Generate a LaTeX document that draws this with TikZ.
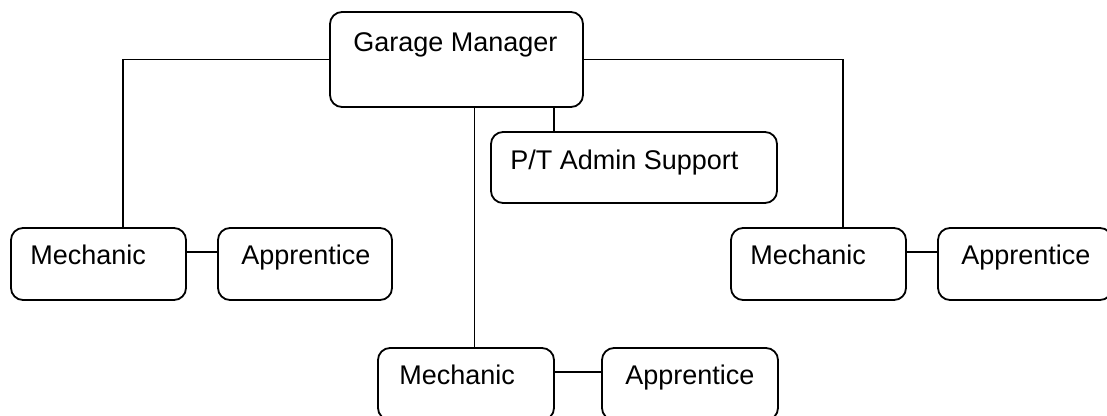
\documentclass[tikz,border=0pt]{standalone}
\usepackage{fontspec}
\setmainfont{Liberation Sans}
\usetikzlibrary{calc}
\tikzset{
  box/.style={draw=black, line width=1.8pt, rounded corners=12pt, fill=white,
    inner sep=0pt, minimum width=#1},
  box/.default=175pt,
  lbl/.style={inner sep=0pt, anchor=base west, font=\fontsize{27}{32}\selectfont},
  link/.style={draw=black, line width=1.8pt},
}
\begin{document}
\begin{tikzpicture}[x=1pt,y=-1pt]
  \useasboundingbox (0,0) rectangle (1107,415);
  \clip (0,0) rectangle (1107,415);
  \fill[white] (0,0) rectangle (1107,415);

  % boxes
  \node[box=253pt, minimum height=95pt] (gm) at (456.5,59.5) {};
  \node[box=286pt, minimum height=71pt] (pt) at (634,167.5) {};
  \node[box=175pt, minimum height=72pt] (lm) at (98.5,264) {};
  \node[box=174pt, minimum height=72pt] (la) at (305,264) {};
  \node[box=175pt, minimum height=72pt] (rm) at (818.5,264) {};
  \node[box=174pt, minimum height=72pt] (ra) at (1025,264) {};
  \node[box=176pt, minimum height=72pt] (bm) at (466,384) {};
  \node[box=176pt, minimum height=72pt] (ba) at (690,384) {};

  % labels
  \node[lbl] (gmt) at ($(gm.north west)+(24,40)$) {Garage Manager};
  \node[lbl] (ptt) at ($(pt.north west)+(20,38)$) {P/T Admin Support};
  \node[lbl] (lmt) at ($(lm.north west)+(20,37)$) {Mechanic};
  \node[lbl] (lat) at ($(la.north west)+(24,37)$) {Apprentice};
  \node[lbl] (rmt) at ($(rm.north west)+(20,37)$) {Mechanic};
  \node[lbl] (rat) at ($(ra.north west)+(24,37)$) {Apprentice};
  \node[lbl] (bmt) at ($(bm.north west)+(22,37)$) {Mechanic};
  \node[lbl] (bat) at ($(ba.north west)+(24,37)$) {Apprentice};

  % connector junctions
  \coordinate (lj) at (123,59.5);
  \coordinate (rj) at (843,59.5);
  \coordinate (bj) at (474.5,0);
  \coordinate (pj) at (554,0);

  % connectors
  \draw[link] (gm.west) -- (lj) -- (lj |- lm.north);
  \draw[link] (gm.east) -- (rj) -- (rj |- rm.north);
  \draw[link] (bj |- gm.south) -- (bj |- bm.north);
  \draw[link] (pj |- gm.south) -- (pj |- pt.north);
  \draw[link] ([yshift=12pt]lm.east) -- ([yshift=12pt]la.west);
  \draw[link] ([yshift=12pt]rm.east) -- ([yshift=12pt]ra.west);
  \draw[link] ([yshift=12pt]bm.east) -- ([yshift=12pt]ba.west);
\end{tikzpicture}
\end{document}
